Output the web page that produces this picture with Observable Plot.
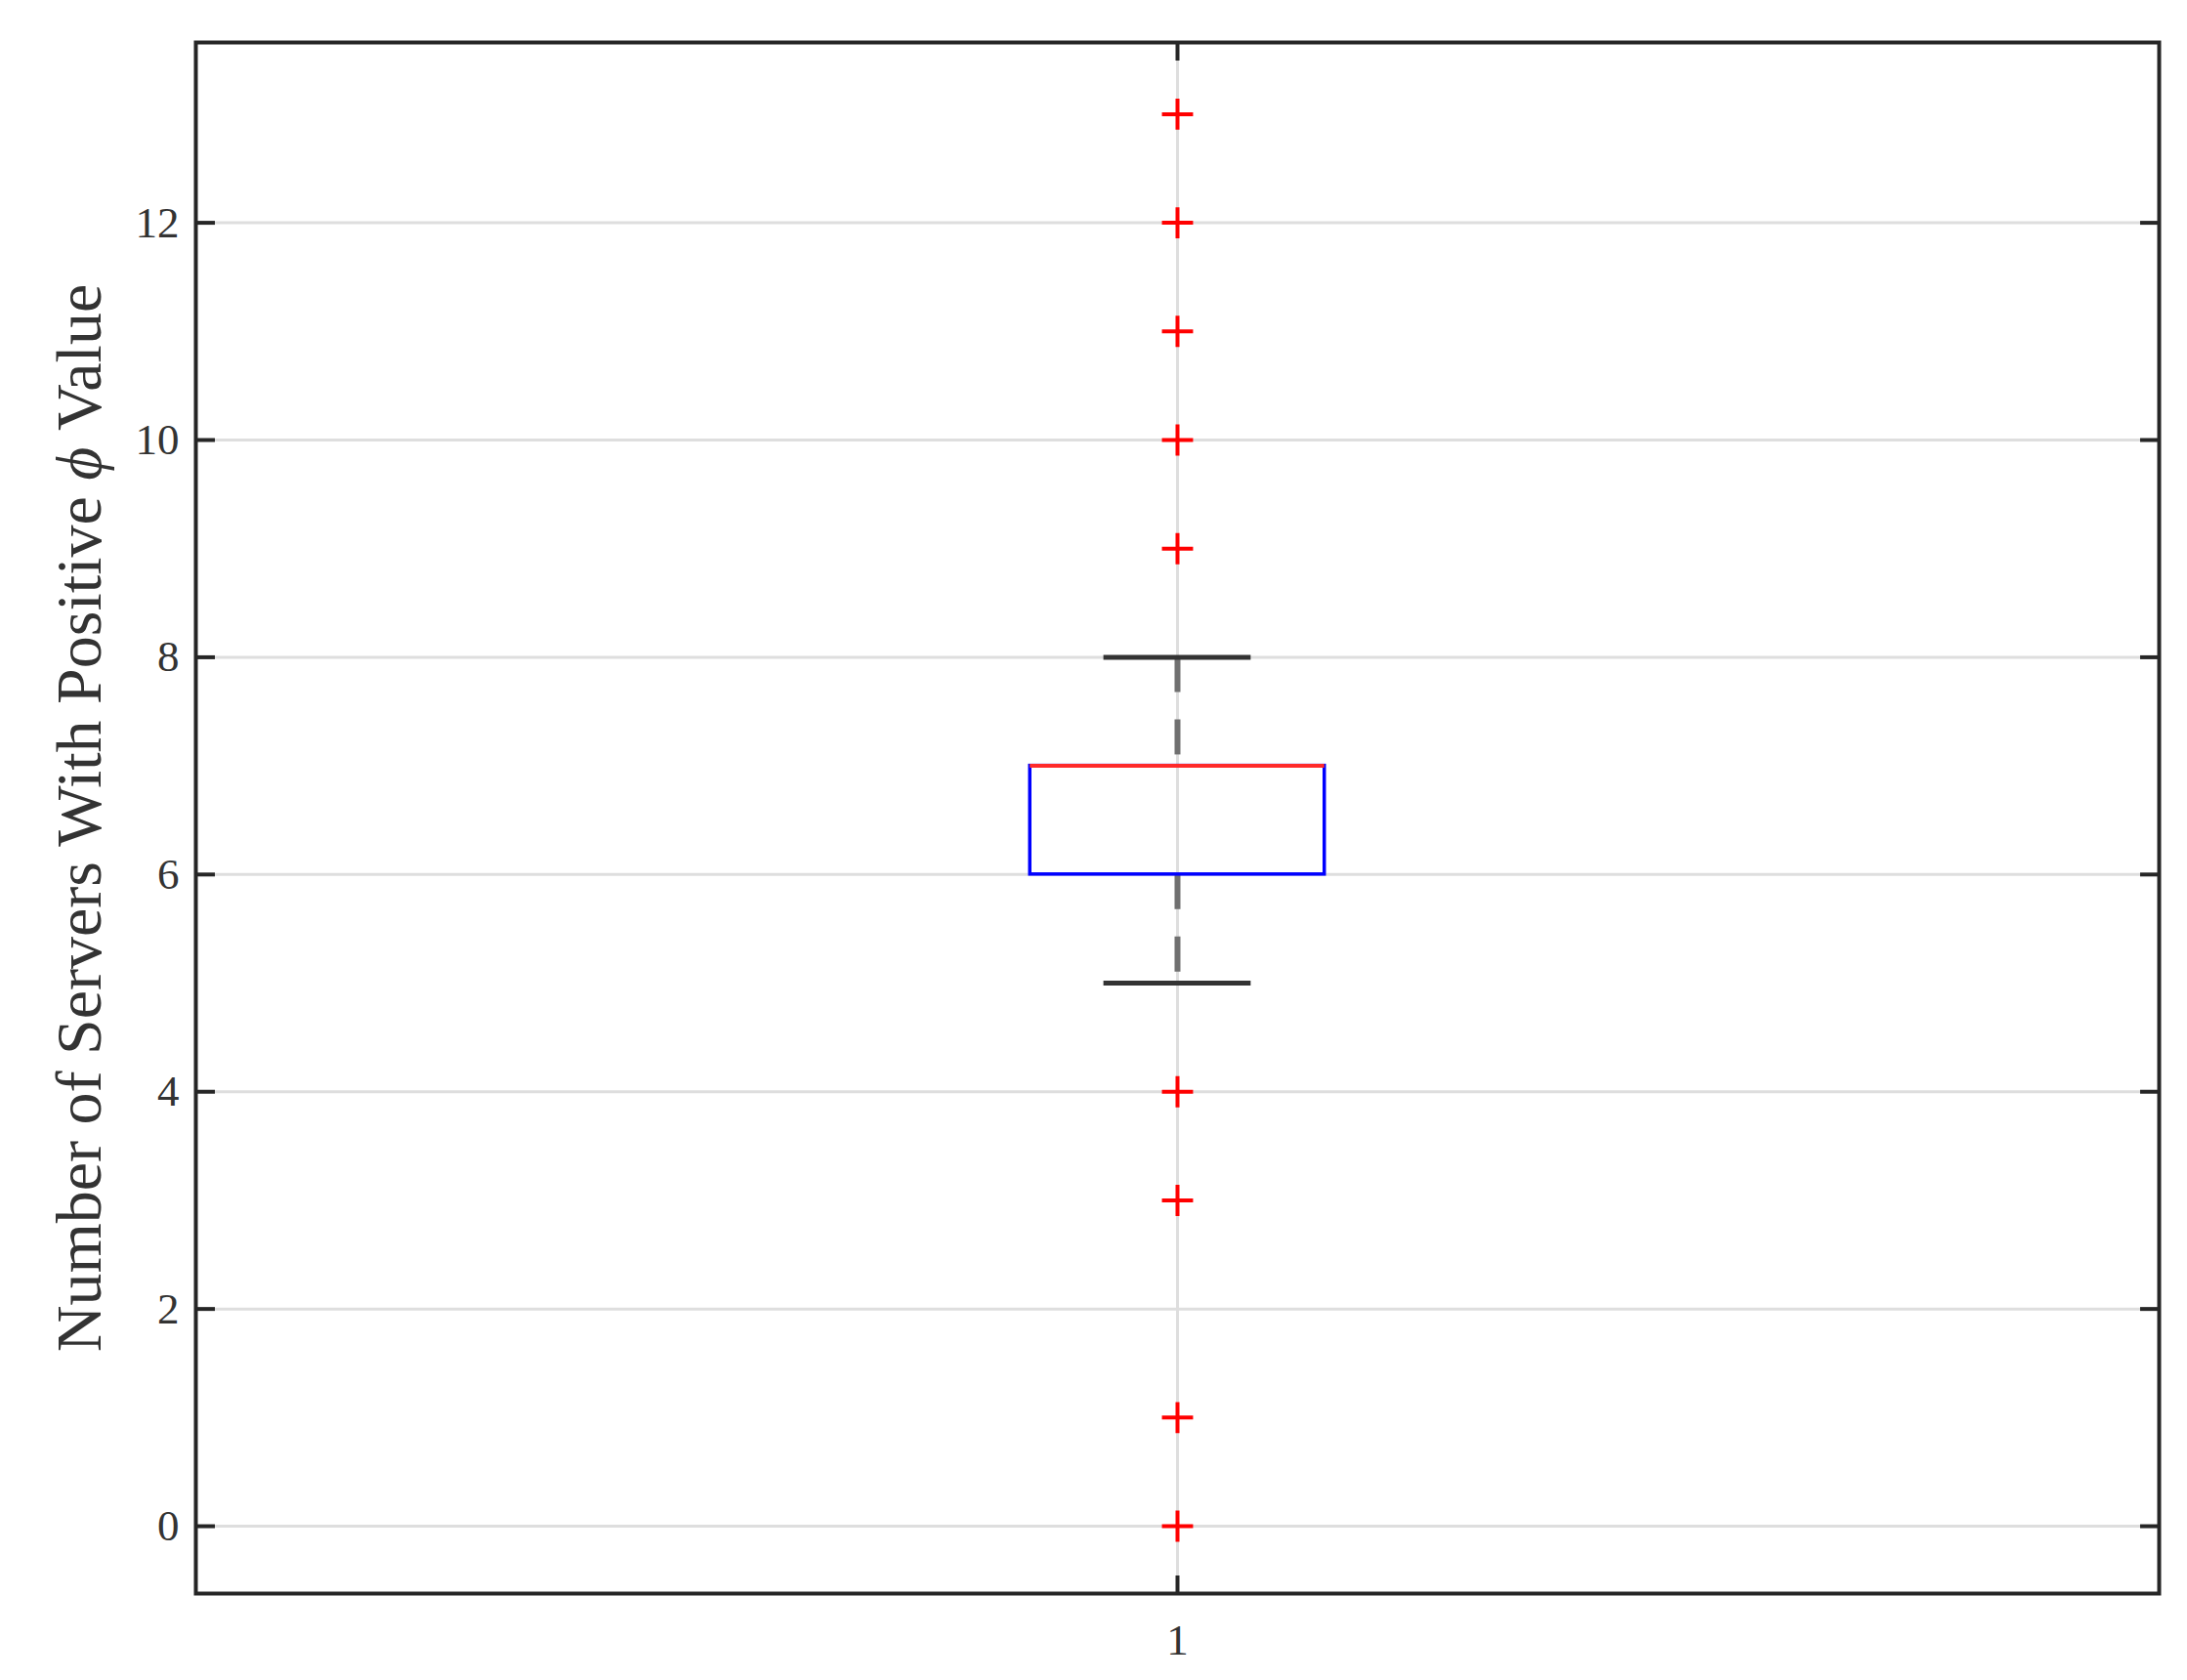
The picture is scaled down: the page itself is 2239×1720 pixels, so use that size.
<!DOCTYPE html>
<html><head><meta charset="utf-8">
<script src="https://cdn.jsdelivr.net/npm/d3@7"></script>
<script src="https://cdn.jsdelivr.net/npm/@observablehq/plot@0.6"></script>
<style>body{margin:0;background:#fff}</style>
</head><body><div id="chart"></div>
<script>
// ---- data ----
const groups = [1];
const groupLabels = ["1"];
const q1Values = [6];
const medianValues = [7];
const q3Values = [7];
const lowerWhiskers = [5];
const upperWhiskers = [8];
const outlierValues = [0, 1, 3, 4, 9, 10, 11, 12, 13];
const yTicks = [0, 2, 4, 6, 8, 10, 12];
const yLabel = "Number of Servers With Positive ϕ Value";

const boxStats = groups.map((g, i) => ({
  group: g, q1: q1Values[i], median: medianValues[i], q3: q3Values[i],
  lo: lowerWhiskers[i], hi: upperWhiskers[i]
}));
const outliers = outlierValues.map(v => ({group: groups[0], value: v}));

const BOX_HALF = 0.075, CAP_HALF = 0.0375;
const serif = "'Liberation Serif', 'Times New Roman', serif";
const frameColor = "#262626";
const noText = () => "";

const chart = Plot.plot({
  width: 2239, height: 1720,
  marginLeft: 200, marginRight: 29, marginTop: 43, marginBottom: 89,
  x: {domain: [0.5, 1.5], label: null},
  y: {domain: [-0.62, 13.66], label: null},
  style: {fontFamily: serif, background: "#fff", color: "#333", overflow: "visible"},
  marks: [
    Plot.gridY(yTicks, {stroke: "#dedede", strokeOpacity: 1, strokeWidth: 3}),
    Plot.gridX(groups, {stroke: "#dedede", strokeOpacity: 1, strokeWidth: 3}),
    Plot.axisY(yTicks, {anchor: "left", tickSize: 0, tickPadding: 17, fontSize: 45, tickFormat: d => String(d), label: null, fill: "#333"}),
    Plot.axisY(yTicks, {anchor: "left", tickSize: 20, dx: 20, tickFormat: noText, label: null, stroke: frameColor, strokeWidth: 4}),
    Plot.axisY(yTicks, {anchor: "right", tickSize: 20, dx: -20, tickFormat: noText, label: null, stroke: frameColor, strokeWidth: 4}),
    Plot.axisX(groups, {anchor: "bottom", tickSize: 0, tickPadding: 31, fontSize: 45, tickFormat: (d, i) => groupLabels[i], label: null, fill: "#333"}),
    Plot.axisX(groups, {anchor: "bottom", tickSize: 18, dy: -18, tickFormat: noText, label: null, stroke: frameColor, strokeWidth: 4}),
    Plot.axisX(groups, {anchor: "top", tickSize: 18, dy: 18, tickFormat: noText, label: null, stroke: frameColor, strokeWidth: 4}),
    // whiskers (dashed)
    Plot.ruleX(boxStats, {x: "group", y1: "hi", y2: "q3", stroke: "#707070", strokeWidth: 6, strokeDasharray: "36,28"}),
    Plot.ruleX(boxStats, {x: "group", y1: "q1", y2: "lo", stroke: "#707070", strokeWidth: 6, strokeDasharray: "36,28"}),
    // caps
    Plot.ruleY(boxStats, {y: "hi", x1: d => d.group - CAP_HALF, x2: d => d.group + CAP_HALF, stroke: "#333", strokeWidth: 5}),
    Plot.ruleY(boxStats, {y: "lo", x1: d => d.group - CAP_HALF, x2: d => d.group + CAP_HALF, stroke: "#333", strokeWidth: 5}),
    // box
    Plot.rect(boxStats, {x1: d => d.group - BOX_HALF, x2: d => d.group + BOX_HALF, y1: "q1", y2: "q3", fill: "none", stroke: "#0000ff", strokeWidth: 3.5}),
    // median
    Plot.ruleY(boxStats, {y: "median", x1: d => d.group - BOX_HALF, x2: d => d.group + BOX_HALF, stroke: "#ff2a2a", strokeWidth: 4}),
    // outliers
    Plot.dot(outliers, {x: "group", y: "value", symbol: "plus", r: 10.3, stroke: "#ff0000", strokeWidth: 4}),
    Plot.frame({stroke: frameColor, strokeWidth: 4}),
    Plot.text([yLabel], {text: d => d, frameAnchor: "left", textAnchor: "middle", rotate: -90, dx: -119, fontSize: 66, fill: "#333", fontFamily: serif})
  ]
});
document.getElementById("chart").appendChild(chart);

// italicize the phi in the y label
chart.querySelectorAll("text").forEach(t => {
  if (t.textContent.includes("ϕ")) {
    const parts = t.textContent.split("ϕ");
    t.textContent = "";
    const ns = "http://www.w3.org/2000/svg";
    const a = document.createElementNS(ns, "tspan"); a.textContent = parts[0];
    const b = document.createElementNS(ns, "tspan"); b.textContent = "ϕ"; b.setAttribute("font-style", "italic");
    const c = document.createElementNS(ns, "tspan"); c.textContent = parts[1];
    t.append(a, b, c);
  }
});
</script>
</body></html>
